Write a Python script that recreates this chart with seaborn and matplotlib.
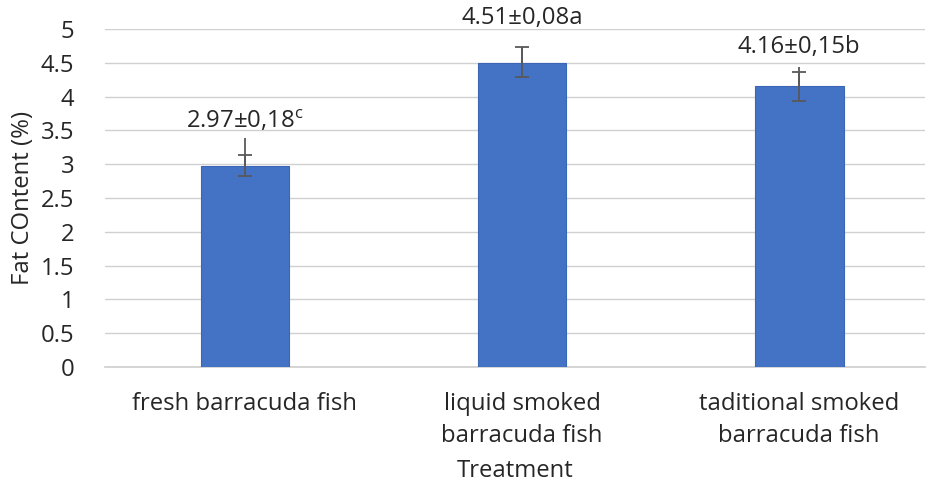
import matplotlib
matplotlib.use("Agg")
import matplotlib.pyplot as plt
import seaborn as sns
import pandas as pd
import numpy as np

categories = ["fresh barracuda fish", "liquid smoked\nbarracuda fish", "taditional smoked\nbarracuda fish"]
values = [2.97, 4.50, 4.15]
err_low = [0.14, 0.21, 0.22]
err_cap_high = [0.17, 0.23, 0.21]
err_high = [0.42, 0.23, 0.29]
labels = ["2.97±0,18$^{\\mathregular{c}}$", "4.51±0,08a", "4.16±0,15b"]
label_y = [3.64, 5.16, 4.73]
yticks = [0, 0.5, 1, 1.5, 2, 2.5, 3, 3.5, 4, 4.5, 5]

sns.set_theme(style="white")
plt.rcParams['font.family'] = ['Open Sans', 'DejaVu Sans']
FS = 17.2
TC = "#262626"

df = pd.DataFrame({"Treatment": categories, "Fat": values})

fig = plt.figure(figsize=(9.29, 4.88), dpi=100)
ax = fig.add_axes([0.113, 0.248, 0.883, 0.6926])
sns.barplot(data=df, x="Treatment", y="Fat", color="#4472C4", width=0.32,
            edgecolor="#3A66B5", linewidth=0.8, ax=ax, zorder=3, saturation=1)
x = np.arange(len(categories))
ax.errorbar(x, values, yerr=[err_low, err_cap_high], fmt="none", ecolor="#595959",
            elinewidth=1.3, capsize=5, capthick=1.3, zorder=4)
ax.errorbar(x, values, yerr=[np.zeros(3), err_high], fmt="none", ecolor="#595959",
            elinewidth=1.3, capsize=0, zorder=4)
for xi, lab, ly in zip(x, labels, label_y):
    ax.text(xi, ly, lab, ha="center", va="center", fontsize=FS, color=TC,
            clip_on=False)

ax.set_ylim(0, 5)
ax.set_yticks(yticks)
ax.set_yticklabels([f"{t:g}" for t in yticks], fontsize=FS, color=TC)
ax.tick_params(axis="x", labelsize=FS, colors=TC, length=0, pad=18)
for t in ax.get_xticklabels():
    t.set_linespacing(1.45)
ax.tick_params(axis="y", length=0, pad=22)
ax.set_xlim(-0.505, 2.455)
ax.yaxis.grid(True, color="#D0D0D0", linewidth=1, zorder=0)
ax.set_axisbelow(True)
for s in ["top", "right", "left"]:
    ax.spines[s].set_visible(False)
ax.spines["bottom"].set_color("#D0D0D0")
ax.set_xlabel("Treatment", fontsize=FS, color=TC, labelpad=8)
ax.set_ylabel("Fat COntent (%)", fontsize=FS, color=TC, labelpad=4)

fig.savefig("out.png", dpi=100)
